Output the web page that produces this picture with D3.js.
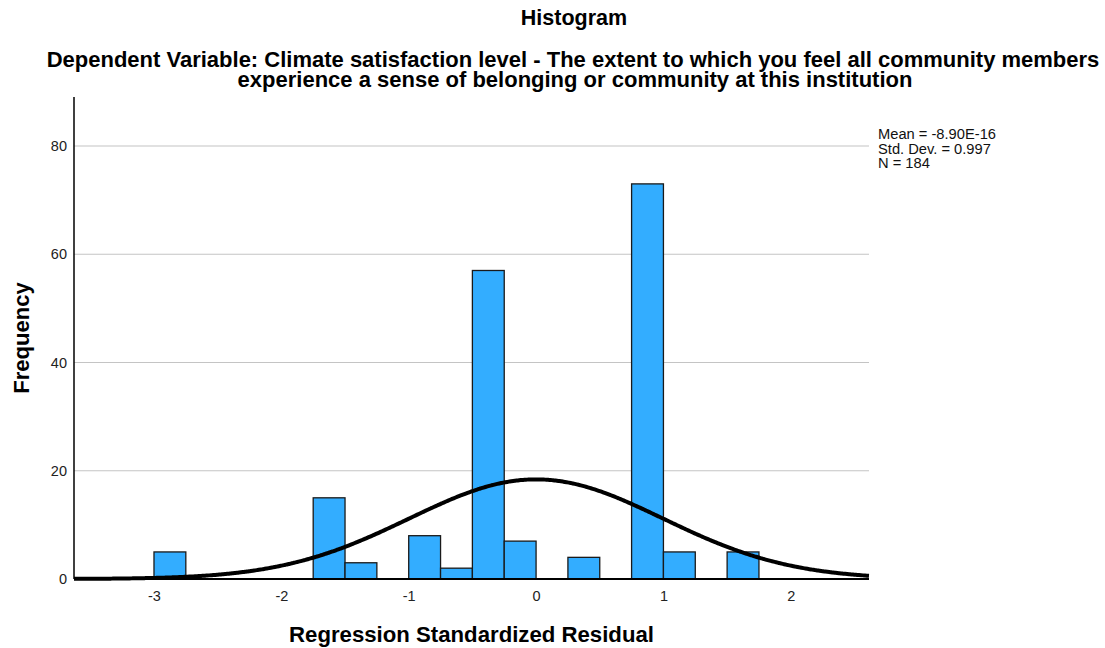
<!DOCTYPE html>
<html>
<head>
<meta charset="utf-8">
<script src="https://cdn.jsdelivr.net/npm/d3@7"></script>
<style>
  html, body { margin: 0; padding: 0; background: #fff; }
  svg { display: block; font-family: "Liberation Sans", Arial, sans-serif; }
</style>
</head>
<body>
<svg id="chart" width="1105" height="648"></svg>
<script>
// Histogram bins of regression standardized residuals (bin width 0.25)
const binStarts = [-3.0, -1.75, -1.5, -1.0, -0.75, -0.5, -0.25, 0.25, 0.75, 1.0, 1.5];
const binCounts = [5, 15, 3, 8, 2, 57, 7, 4, 73, 5, 5];
const binWidth = 0.25;

// Summary statistics
const mean = -8.90e-16;
const stdDev = 0.997;
const nTotal = 184;

const xTicks = [-3, -2, -1, 0, 1, 2];
const yTicks = [0, 20, 40, 60, 80];
const statLines = ["Mean = -8.90E-16", "Std. Dev. = 0.997", "N = 184"];
const subtitleLines = [
  "Dependent Variable: Climate satisfaction level - The extent to which you feel all community members",
  "experience a sense of belonging or community at this institution"
];

const svg = d3.select("#chart");
const plotLeft = 74, plotRight = 869, plotTop = 97, plotBottom = 579;

const x = d3.scaleLinear().domain([-3.628, 2.614]).range([plotLeft, plotRight]);
const y = d3.scaleLinear().domain([0, 80]).range([plotBottom, 146]);

// Titles
svg.append("text").attr("x", 574).attr("y", 25).attr("text-anchor", "middle")
  .attr("font-size", 21.5).attr("font-weight", "bold").text("Histogram");
const sub = svg.append("text").attr("text-anchor", "middle")
  .attr("font-size", 22).attr("font-weight", "bold");
sub.selectAll("tspan").data(subtitleLines).join("tspan")
  .attr("x", (d, i) => i === 0 ? 573 : 575)
  .attr("y", (d, i) => 66.5 + i * 20.5)
  .text(d => d);

// Gridlines
svg.append("g").selectAll("line").data(yTicks.filter(d => d > 0)).join("line")
  .attr("x1", plotLeft).attr("x2", plotRight)
  .attr("y1", d => y(d)).attr("y2", d => y(d))
  .attr("stroke", "#c4c4c4").attr("stroke-width", 1.2);

// Bars
svg.append("g").selectAll("rect").data(binStarts.map((s, i) => ({ s, c: binCounts[i] })))
  .join("rect")
  .attr("x", d => x(d.s))
  .attr("width", d => x(d.s + binWidth) - x(d.s))
  .attr("y", d => y(d.c))
  .attr("height", d => y(0) - y(d.c))
  .attr("fill", "#33adff")
  .attr("stroke", "#1a1a1a").attr("stroke-width", 1.3);

// Normal curve scaled to counts
const pdf = v => Math.exp(-0.5 * ((v - mean) / stdDev) ** 2) / (stdDev * Math.sqrt(2 * Math.PI));
const curvePts = d3.range(0, 401).map(i => {
  const v = x.domain()[0] + (x.domain()[1] - x.domain()[0]) * i / 400;
  return [v, nTotal * binWidth * pdf(v)];
});
svg.append("path").datum(curvePts)
  .attr("d", d3.line().x(d => x(d[0])).y(d => y(d[1])).curve(d3.curveBasis))
  .attr("fill", "none").attr("stroke", "#000").attr("stroke-width", 4);

// Axes
const tickSize = 14.5;
const yAxis = d3.axisLeft(y).tickValues(yTicks).tickFormat(d => String(d)).tickSize(0).tickPadding(7);
const gy = svg.append("g").attr("transform", `translate(${plotLeft},0)`).call(yAxis);
gy.select(".domain").remove();
gy.selectAll("text").attr("font-size", tickSize).attr("fill", "#222")
  .attr("font-family", "Liberation Sans, Arial, sans-serif");

const xAxis = d3.axisBottom(x).tickValues(xTicks).tickFormat(d => String(d)).tickSize(0).tickPadding(12);
const gx = svg.append("g").attr("transform", `translate(0,${plotBottom})`).call(xAxis);
gx.select(".domain").remove();
gx.selectAll("text").attr("font-size", tickSize).attr("fill", "#222")
  .attr("font-family", "Liberation Sans, Arial, sans-serif");

svg.append("line").attr("x1", plotLeft).attr("x2", plotLeft).attr("y1", plotTop).attr("y2", plotBottom)
  .attr("stroke", "#000").attr("stroke-width", 1.5);
svg.append("line").attr("x1", plotLeft).attr("x2", plotRight).attr("y1", plotBottom).attr("y2", plotBottom)
  .attr("stroke", "#000").attr("stroke-width", 2.2);

// Axis titles
svg.append("text").attr("x", (plotLeft + plotRight) / 2).attr("y", 642).attr("text-anchor", "middle")
  .attr("font-size", 22.2).attr("font-weight", "bold").text("Regression Standardized Residual");
svg.append("text").attr("transform", "translate(29,338) rotate(-90)").attr("text-anchor", "middle")
  .attr("font-size", 22).attr("font-weight", "bold").text("Frequency");

// Summary statistics block
svg.append("g").selectAll("text").data(statLines).join("text")
  .attr("x", 878).attr("y", (d, i) => 139 + i * 14.5)
  .attr("font-size", 14.7).attr("fill", "#111").text(d => d);
</script>
</body>
</html>
